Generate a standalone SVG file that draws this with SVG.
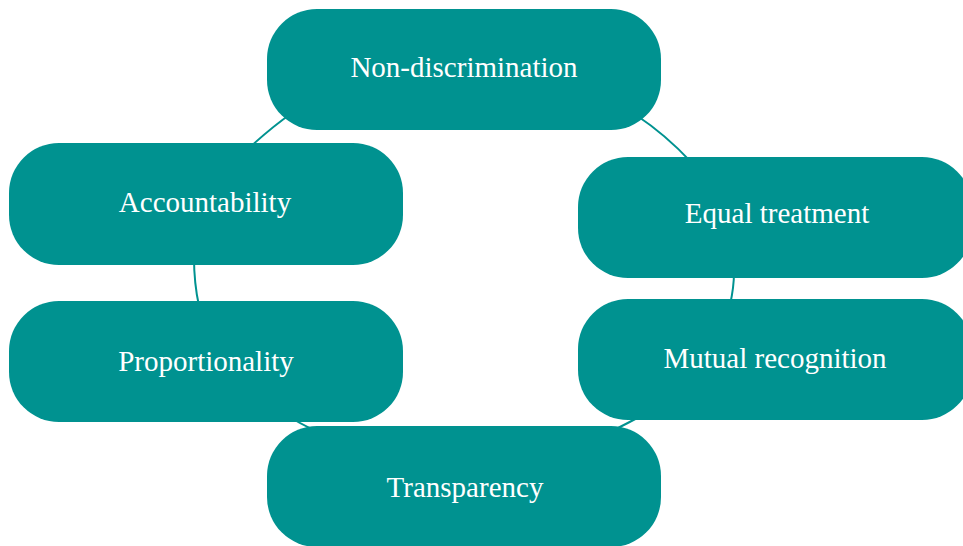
<svg xmlns="http://www.w3.org/2000/svg" width="963" height="546" viewBox="0 0 963 546">
  <style>
    .box { fill: #009290; }
    .label { fill: #ffffff; font-family: "Liberation Serif", "Times New Roman", serif; font-size: 29px; text-anchor: middle; }
    .link { fill: none; stroke: #009290; stroke-width: 2; }
  </style>
  <rect width="963" height="546" fill="#ffffff"/>

  <!-- connectors: ring segments between neighbouring principles -->
  <g id="connectors">
    <path class="link" d="M292,113 Q272,127 249,148"/>
    <path class="link" d="M194,258 Q194,283 199,306"/>
    <path class="link" d="M288,416 Q299,423 314,430"/>
    <path class="link" d="M614,430 Q628,423 641,416"/>
    <path class="link" d="M734,272 Q734,287 730,305"/>
    <path class="link" d="M636,115 Q666,135 691,162"/>
  </g>

  <g id="non-discrimination">
    <rect class="box" x="267" y="9" width="394" height="121" rx="50"/>
    <text class="label" x="464" y="77">Non-discrimination</text>
  </g>
  <g id="equal-treatment">
    <rect class="box" x="578" y="157" width="394" height="121" rx="50"/>
    <text class="label" x="777" y="223">Equal treatment</text>
  </g>
  <g id="mutual-recognition">
    <rect class="box" x="578" y="299" width="394" height="121" rx="50"/>
    <text class="label" x="775" y="368">Mutual recognition</text>
  </g>
  <g id="transparency">
    <rect class="box" x="267" y="426" width="394" height="121" rx="50"/>
    <text class="label" x="465" y="497">Transparency</text>
  </g>
  <g id="proportionality">
    <rect class="box" x="9" y="301" width="394" height="121" rx="50"/>
    <text class="label" x="206" y="371">Proportionality</text>
  </g>
  <g id="accountability">
    <rect class="box" x="9" y="143" width="394" height="122" rx="50"/>
    <text class="label" x="205" y="212">Accountability</text>
  </g>
</svg>
